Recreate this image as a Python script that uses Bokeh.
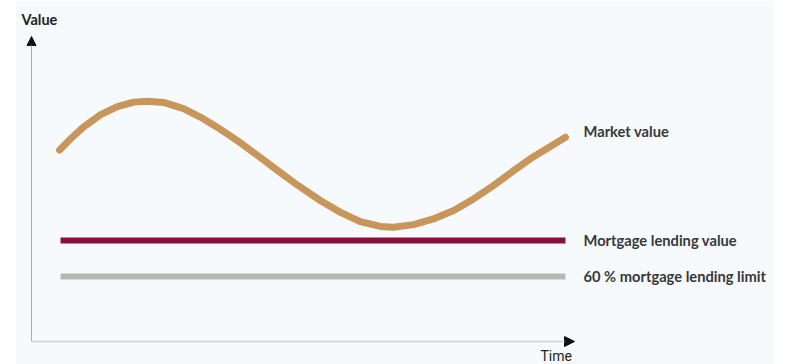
from bokeh.plotting import figure
from bokeh.models import Range1d, Arrow, NormalHead, BoxAnnotation
from bokeh.core.properties import value
from bokeh.embed import file_html
from bokeh.resources import INLINE

# ---- data (time 0..100, value 0..100) ----
time = [0.2, 2.4, 4.9, 8.3, 11.6, 14.8, 17.5, 20.7, 24.6, 28.0, 31.3, 35.2, 39.2, 43.1, 47.0,
        51.6, 55.5, 59.4, 63.4, 65.9, 69.9, 73.8, 77.8, 81.7, 85.6, 89.6, 93.5, 97.4, 99.8]
market_value = [64.9, 68.7, 72.6, 76.8, 79.5, 81.0, 81.3, 80.9, 78.8, 75.9, 72.5, 68.1, 63.1, 58.1, 53.2,
                47.9, 44.0, 40.9, 39.3, 39.0, 39.9, 41.8, 44.6, 48.5, 53.0, 58.0, 62.7, 66.7, 69.2]
lending_time = [0.4, 99.8]
mortgage_lending_value = [34.6, 34.6]
lending_limit_60 = [22.5, 22.5]

series_labels = ["Market value", "Mortgage lending value", "60 % mortgage lending limit"]
axis_labels = ["Value", "Time"]

W, H = 789, 364
PX_PER_X = 5.08
PX_PER_Y = 2.98
X0_PX, Y0_PX = 58, 343

def xd(px):
    return (px - X0_PX) / PX_PER_X

def yd(py):
    return (Y0_PX - py) / PX_PER_Y

p = figure(width=W, height=H, output_backend="svg", toolbar_location=None,
           x_range=Range1d(xd(0), xd(W)), y_range=Range1d(yd(H), yd(0)),
           min_border=0, min_border_left=0, min_border_right=0,
           min_border_top=0, min_border_bottom=0)
p.axis.visible = False
p.grid.visible = False
p.outline_line_color = None
p.background_fill_color = "white"
p.border_fill_color = "white"

# light panel
p.add_layout(BoxAnnotation(left=xd(15), right=xd(773), fill_color="#f6fafc",
                           fill_alpha=1.0, line_color=None, level="underlay"))

# axes
p.add_layout(Arrow(end=NormalHead(size=9, fill_color="#111111", line_color="#111111"),
                   x_start=xd(31), y_start=yd(341), x_end=xd(31), y_end=yd(36),
                   line_color="#a9aeb2", line_width=1))
p.add_layout(Arrow(end=NormalHead(size=10, fill_color="#111111", line_color="#111111"),
                   x_start=xd(31), y_start=yd(341), x_end=xd(574), y_end=yd(341),
                   line_color="#c9d3d8", line_width=1.5))

# series
p.line(lending_time, lending_limit_60, line_color="#b7b9b1", line_width=6, line_cap="butt")
p.line(lending_time, mortgage_lending_value, line_color="#8a0f3c", line_width=6, line_cap="butt")
p.line(time, market_value, line_color="#c8955a", line_width=7, line_cap="round", line_join="round")

# series labels
lx = xd(583)
p.text(x=[lx, lx, lx], y=[yd(130), mortgage_lending_value[0], lending_limit_60[0]],
       text=series_labels, text_font=value("Lato"), text_font_style="bold",
       text_font_size="14.7px", text_color="#383838", text_baseline="middle", text_align="left")

# axis labels
p.text(x=[xd(21)], y=[yd(19)], text=[axis_labels[0]], text_font=value("Lato"),
       text_font_style="bold", text_font_size="14.5px", text_color="#222222",
       text_baseline="middle", text_align="left")
p.text(x=[xd(540)], y=[yd(355)], text=[axis_labels[1]], text_font=value("Roboto"),
       text_font_style="normal", text_font_size="14px", text_color="#222222",
       text_baseline="middle", text_align="left")

open("out.html", "w").write(file_html(p, INLINE))
